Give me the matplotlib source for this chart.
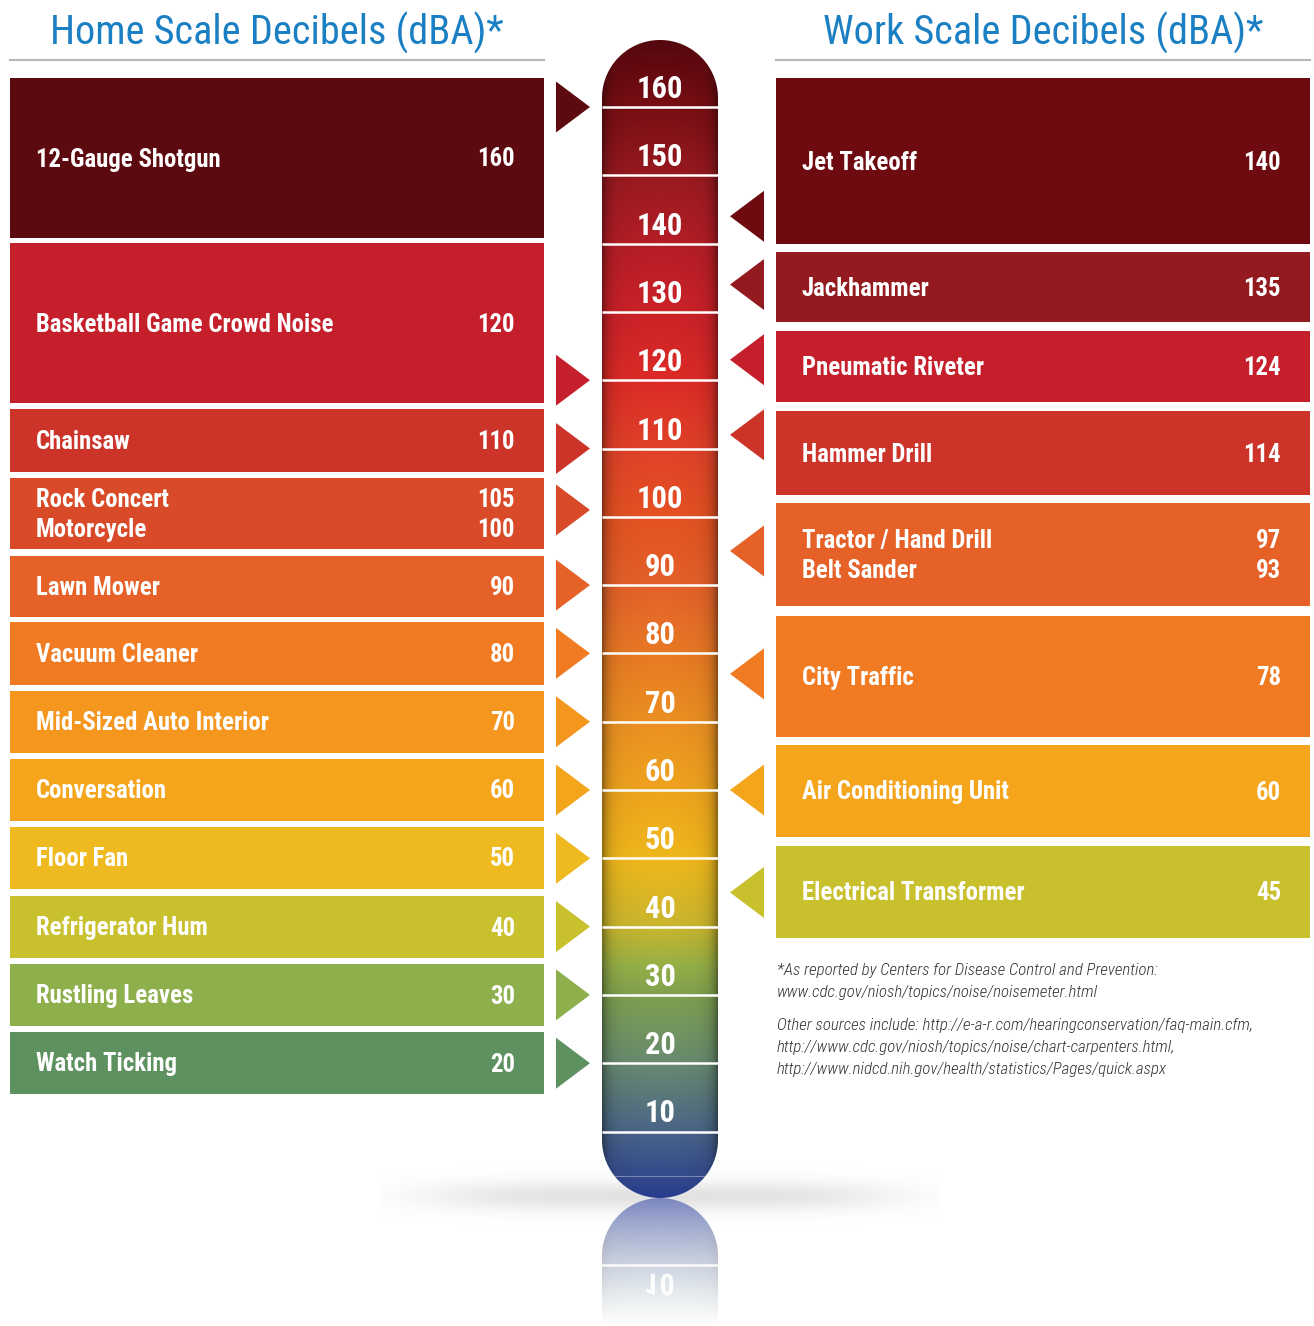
import matplotlib
matplotlib.use("Agg")
import matplotlib.pyplot as plt
import numpy as np
from matplotlib.patches import Rectangle, Polygon, PathPatch
from matplotlib.textpath import TextPath
from matplotlib.font_manager import FontProperties
from matplotlib.colors import to_rgb
from matplotlib.transforms import Affine2D

FONT = ['Roboto Condensed', 'Archivo Narrow', 'DejaVu Sans']
plt.rcParams['font.family'] = FONT

# ---- data ----
home_labels = ["12-Gauge Shotgun", "Basketball Game Crowd Noise", "Chainsaw",
               "Rock Concert\nMotorcycle", "Lawn Mower", "Vacuum Cleaner",
               "Mid-Sized Auto Interior", "Conversation", "Floor Fan",
               "Refrigerator Hum", "Rustling Leaves", "Watch Ticking"]
home_values = ["160", "120", "110", "105\n100", "90", "80", "70", "60", "50", "40", "30", "20"]
home_pointer = [160, 120, 110, 101, 90, 80, 70, 60, 50, 40, 30, 20]

work_labels = ["Jet Takeoff", "Jackhammer", "Pneumatic Riveter", "Hammer Drill",
               "Tractor / Hand Drill\nBelt Sander", "City Traffic",
               "Air Conditioning Unit", "Electrical Transformer"]
work_values = ["140", "135", "124", "114", "97\n93", "78", "60", "45"]
work_pointer = [144, 134, 123, 112, 95, 77, 60, 45]

scale_ticks = [160, 150, 140, 130, 120, 110, 100, 90, 80, 70, 60, 50, 40, 30, 20, 10]

# ---- layout / style ----
home_rows = [(78, 238), (243, 403), (409, 472), (478, 549), (556, 617), (622, 685),
             (691, 753), (759, 821), (827, 889), (896, 958), (964, 1026), (1032, 1094)]
work_rows = [(78, 244), (252, 322), (331, 402), (411, 495), (503, 606), (616, 737),
             (745, 837), (846, 938)]
home_colors = ['#5c0a0f', '#c41f2a', '#cc3329', '#d94b28', '#e56128', '#f07b22',
               '#f5961f', '#f5a51c', '#efb920', '#c9c02e', '#8db04d', '#5e9160']
work_colors = ['#6e0b10', '#931a1e', '#c41f2a', '#cc3329', '#e56128', '#f07b22',
               '#f5a51c', '#c9c02e']

W, H = 1314, 1326
T_X0, T_X1, T_TOP, T_BOT = 602, 718, 40, 1198
R = 58


def db_y(v):
    return 107 + (160 - v) * 6.83


fig = plt.figure(figsize=(W / 100, H / 100), dpi=100)
ax = fig.add_axes([0, 0, 1, 1])
ax.set_xlim(0, W)
ax.set_ylim(H, 0)
ax.axis('off')

# titles
blue = '#1b7fc3'
ax.text(277, 33, "Home Scale Decibels (dBA)*", color=blue, fontsize=29,
        ha='center', va='center')
ax.text(1043, 33, "Work Scale Decibels (dBA)*", color=blue, fontsize=29,
        ha='center', va='center')
ax.plot([10, 544], [60, 60], color='#b8b8b8', lw=1.5)
ax.plot([776, 1310], [60, 60], color='#b8b8b8', lw=1.5)


def draw_rows(rows, labels, values, colors, x0, x1, pointers, left):
    for (top, bot), lab, val, c, p in zip(rows, labels, values, colors, pointers):
        ax.add_patch(Rectangle((x0, top), x1 - x0, bot - top, color=c, lw=0))
        mid = (top + bot) / 2 + 1.5
        ax.text(x0 + 26, mid, lab, color='white', fontsize=17.8, fontweight='bold',
                ha='left', va='center', linespacing=1.3)
        ax.text(x1 - 29, mid, val, color='white', fontsize=17.8, fontweight='bold',
                ha='right', va='center', linespacing=1.3, multialignment='right')
        py = db_y(p)
        if left:
            tri = [(556, py - 25.5), (556, py + 25.5), (590, py)]
        else:
            tri = [(764, py - 25.5), (764, py + 25.5), (730, py)]
        ax.add_patch(Polygon(tri, closed=True, color=c, lw=0))


draw_rows(home_rows, home_labels, home_values, home_colors, 10, 544, home_pointer, True)
draw_rows(work_rows, work_labels, work_values, work_colors, 776, 1310, work_pointer, False)

# ---- thermometer ----
stops = [(40, '#55070e'), (107, '#780e14'), (176, '#981a20'), (244, '#b51d26'),
         (313, '#cb2228'), (381, '#dd2b27'), (450, '#e04228'), (518, '#e45222'),
         (587, '#e4612a'), (655, '#e87a24'), (723, '#ec9022'), (791, '#eea41e'),
         (859, '#f0b81c'), (927, '#c9b62e'), (965, '#96b046'), (996, '#7ea050'),
         (1064, '#688a70'), (1132, '#4a6488'), (1198, '#283c8e')]
sy = np.array([s[0] for s in stops], float)
sc = np.array([to_rgb(s[1]) for s in stops])

ny = T_BOT - T_TOP
nx = T_X1 - T_X0
yy = np.arange(ny) + T_TOP + 0.5
xx = np.arange(nx) + T_X0 + 0.5
col = np.stack([np.interp(yy, sy, sc[:, k]) for k in range(3)], axis=1)
u = (xx - (T_X0 + T_X1) / 2) / (nx / 2)
shade = 1 - 0.38 * np.abs(u) ** 10 - 0.06 * np.abs(u) ** 2
img = col[:, None, :] * shade[None, :, None]


def capsule_mask(X, Y):
    cx = (T_X0 + T_X1) / 2
    m = np.ones_like(X)
    yc = T_TOP + R
    d = np.sqrt((X - cx) ** 2 + (Y - yc) ** 2)
    m = np.where(Y < yc, np.clip(R - d + 0.5, 0, 1), m)
    yc = T_BOT - R
    d = np.sqrt((X - cx) ** 2 + (Y - yc) ** 2)
    m = np.where(Y > yc, np.clip(R - d + 0.5, 0, 1), m)
    return m


X, Y = np.meshgrid(xx, yy)
mask = capsule_mask(X, Y)

# floor shadow
gx = np.linspace(380, 940, 300)
gy = np.linspace(1165, 1235, 80)
GX, GY = np.meshgrid(gx, gy)
sh = np.exp(-((GX - 660) / 230) ** 4) * np.exp(-((GY - 1196) / 15) ** 2)
sh_img = np.zeros((len(gy), len(gx), 4))
sh_img[..., :3] = 0.6
sh_img[..., 3] = 0.28 * sh
ax.imshow(sh_img, extent=(380, 940, 1235, 1165), interpolation='bilinear', zorder=1)

rgba = np.dstack([img, mask])
ax.imshow(rgba, extent=(T_X0, T_X1, T_BOT, T_TOP), interpolation='bilinear', zorder=2)

# reflection
ref_h = H - T_BOT
ref = img[::-1][:ref_h]
ry = np.arange(ref_h) + 0.5
fade = np.clip(0.85 - ry / 150.0, 0, 1)
ref_col = ref * 0.7 + np.array([0.3, 0.3, 0.34])
ref_col = np.clip(ref_col, 0, 1)
rmask = mask[::-1][:ref_h]
ref_rgba = np.dstack([ref_col, rmask * fade[:, None]])
ax.imshow(ref_rgba, extent=(T_X0, T_X1, H, T_BOT), interpolation='bilinear', zorder=2)

# scale lines and numbers
for v in scale_ticks:
    y = db_y(v)
    ax.plot([T_X0, T_X1], [y, y], color='white', lw=1.8, zorder=3,
            solid_capstyle='butt')
    ax.text(660, y - 18, str(v), color='white', fontsize=22, fontweight='bold',
            ha='center', va='center', zorder=4)
ax.plot([T_X0, T_X1], [1176, 1176], color='white', lw=0.8, alpha=0.35, zorder=3)
ax.plot([T_X0, T_X1], [2 * T_BOT - db_y(10), 2 * T_BOT - db_y(10)], color='white',
        lw=1.8, alpha=0.9, zorder=3)

# mirrored "10"
fp = FontProperties(family=FONT, weight='bold')
tp = TextPath((0, 0), "10", size=30, prop=fp)
bb = tp.get_extents()
tr = Affine2D().translate(-(bb.x0 + bb.x1) / 2, -(bb.y0 + bb.y1) / 2).translate(
    660, 2 * T_BOT - (db_y(10) - 20)) + ax.transData
ax.add_patch(PathPatch(tp, transform=tr, color='white', alpha=0.95, lw=0, zorder=4))

# footnotes
notes = [(970, "*As reported by Centers for Disease Control and Prevention:"),
         (992, "www.cdc.gov/niosh/topics/noise/noisemeter.html"),
         (1025, "Other sources include: http://e-a-r.com/hearingconservation/faq-main.cfm,"),
         (1047, "http://www.cdc.gov/niosh/topics/noise/chart-carpenters.html,"),
         (1069, "http://www.nidcd.nih.gov/health/statistics/Pages/quick.aspx")]
for y, t in notes:
    ax.text(777, y, t, color='#333333', fontsize=12.2, style='italic',
            fontweight='light', ha='left', va='center')

fig.savefig("out.png", dpi=100)
